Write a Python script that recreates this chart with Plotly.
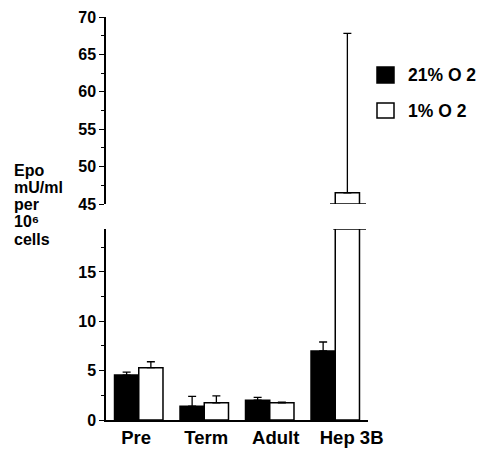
import plotly.graph_objects as go

categories = ["Pre", "Term", "Adult", "Hep 3B"]
series_names = ["21% O 2", "1% O 2"]
normoxia = [4.55, 1.4, 2.0, 7.0]
normoxia_err = [0.3, 1.0, 0.3, 0.9]
hypoxia = [5.3, 1.75, 1.75, 46.5]
hypoxia_err = [0.6, 0.7, 0.05, 21.3]
lower_range = [0, 19.35]
upper_range = [45, 70]
lower_ticks = [0, 5, 10, 15]
upper_ticks = [45, 50, 55, 60, 65, 70]
ytitle_lines = ["Epo", "mU/ml", "per", "10\u2076", "cells"]

FONT = "Liberation Sans, Arial, Helvetica, sans-serif"
W, H = 479, 449
L, R, T, B = 106, 111, 17, 29
PW, PH = W - L - R, H - T - B
# small horizontal nudges of the category labels (as in the original figure)
label_nudge = [-0.04, 0.03, 0.09, 0.25]

def py2paper(sy):
    return (H - B - sy) / PH

def px2paper(px):
    return (px - L) / PW

x = list(range(len(categories)))
fig = go.Figure()

for yax in ["y", "y2"]:
    fig.add_trace(go.Bar(
        x=x, y=normoxia, name=series_names[0], yaxis=yax, showlegend=False,
        marker=dict(color="black", line=dict(color="black", width=1.5)),
        error_y=dict(type="data", symmetric=False, array=normoxia_err,
                     arrayminus=[0] * len(normoxia), color="black", thickness=1.3, width=4),
    ))
    fig.add_trace(go.Bar(
        x=x, y=hypoxia, name=series_names[1], yaxis=yax, showlegend=False,
        marker=dict(color="white", line=dict(color="black", width=1.5)),
        error_y=dict(type="data", symmetric=False, array=hypoxia_err,
                     arrayminus=[0] * len(hypoxia), color="black", thickness=1.3, width=4),
    ))

tickfont = dict(family=FONT, size=16, color="black")
fig.update_layout(
    width=W, height=H,
    margin=dict(l=L, r=R, t=T, b=B, pad=0, autoexpand=False),
    paper_bgcolor="white", plot_bgcolor="white",
    barmode="group", bargap=0.26, bargroupgap=0,
    xaxis=dict(range=[-0.5, len(categories) - 0.5],
               tickvals=[i + d for i, d in zip(x, label_nudge)],
               ticktext=["<b>%s</b>" % c for c in categories],
               tickfont=dict(family=FONT, size=18.5, color="black"),
               showline=True, linecolor="black", linewidth=1.5, ticks="",
               showgrid=False, zeroline=False, anchor="y", automargin=False),
    yaxis=dict(domain=[0, py2paper(229)], range=lower_range, tickvals=lower_ticks,
               ticktext=["<b>%d</b>" % v for v in lower_ticks], tickfont=tickfont,
               showline=True, linecolor="black", linewidth=1.5, ticks="outside",
               ticklen=5, tickwidth=1.3, tickcolor="black",
               minor=dict(dtick=2.5, tick0=0, ticks="outside", ticklen=3, tickcolor="black", tickwidth=1),
               showgrid=False, zeroline=False, anchor="x", automargin=False),
    yaxis2=dict(domain=[py2paper(204), 1], range=upper_range, tickvals=upper_ticks,
                ticktext=["<b>%d</b>" % v for v in upper_ticks], tickfont=tickfont,
                showline=True, linecolor="black", linewidth=1.5, ticks="outside",
                ticklen=5, tickwidth=1.3, tickcolor="black",
                minor=dict(dtick=2.5, tick0=45, ticks="outside", ticklen=3, tickcolor="black", tickwidth=1),
                showgrid=False, zeroline=False, anchor="x", automargin=False),
)

# axis-break marks at the broken Hep 3B bar
hi = categories.index("Hep 3B")
fig.add_shape(type="line", xref="x", yref="y2", x0=hi - 0.08, x1=hi + 0.47,
              y0=upper_range[0], y1=upper_range[0], line=dict(color="black", width=1.5))
fig.add_shape(type="line", xref="x", yref="y", x0=hi - 0.03, x1=hi + 0.47,
              y0=lower_range[1], y1=lower_range[1], line=dict(color="black", width=1.5))

# legend
legend_rows = [(series_names[0], "black", 67, 83), (series_names[1], "white", 103, 118)]
for name, color, ytop, ybot in legend_rows:
    fig.add_shape(type="rect", xref="paper", yref="paper",
                  x0=px2paper(377), x1=px2paper(394), y0=py2paper(ybot), y1=py2paper(ytop),
                  fillcolor=color, line=dict(color="black", width=1.5))
    fig.add_annotation(xref="paper", yref="paper", x=px2paper(406), y=py2paper((ytop + ybot) / 2),
                       text="<b>%s</b>" % name, showarrow=False, xanchor="left", yanchor="middle",
                       font=dict(family=FONT, size=17.5, color="black"))

# y-axis title
ycenters = [170, 187, 204, 221, 239]
for line, yc in zip(ytitle_lines, ycenters):
    fig.add_annotation(xref="paper", yref="paper", x=px2paper(12), y=py2paper(yc),
                       text="<b>%s</b>" % line, showarrow=False, xanchor="left", yanchor="middle",
                       font=dict(family=FONT, size=16, color="black"))

fig.write_html("out.html", config={"displayModeBar": False},
               post_script="document.body.style.margin='0';")
